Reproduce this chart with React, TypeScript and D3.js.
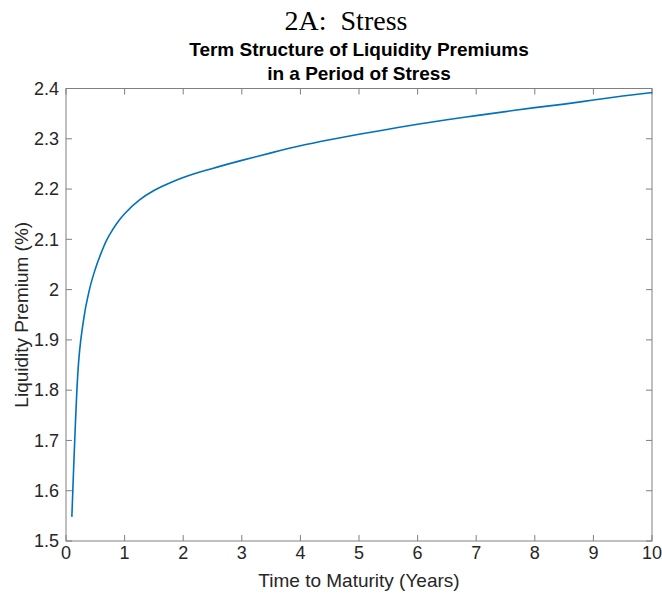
import React from "react";
import * as d3 from "d3";

const maturities = [0.1, 0.2, 0.3, 0.4, 0.5, 0.6, 0.7, 0.8, 0.9, 1.0, 1.25, 1.5, 1.75, 2.0, 2.5, 3.0, 3.5, 4.0, 4.5, 5.0, 5.5, 6.0, 6.5, 7.0, 7.5, 8.0, 8.5, 9.0, 9.5, 10.0];
const premiums = [1.548, 1.83, 1.94, 2.0, 2.041, 2.073, 2.1, 2.12, 2.137, 2.151, 2.178, 2.197, 2.211, 2.223, 2.241, 2.257, 2.272, 2.286, 2.298, 2.309, 2.319, 2.329, 2.338, 2.346, 2.354, 2.362, 2.369, 2.377, 2.385, 2.392];
const xTicks = [0, 1, 2, 3, 4, 5, 6, 7, 8, 9, 10];
const yTicks = [1.5, 1.6, 1.7, 1.8, 1.9, 2.0, 2.1, 2.2, 2.3, 2.4];

const W = 662;
const H = 596;
const left = 66;
const right = 652;
const top = 88.5;
const bottom = 541;

export default function App() {
  const x = d3.scaleLinear().domain([0, 10]).range([left, right]);
  const y = d3.scaleLinear().domain([1.5, 2.4]).range([bottom, top]);
  const pts = maturities.map((m, i) => [m, premiums[i]] as [number, number]);
  const line = d3
    .line<[number, number]>()
    .x((d) => x(d[0]))
    .y((d) => y(d[1]))
    .curve(d3.curveMonotoneX);
  const axisColor = "#808080";
  const textColor = "#262626";
  const font = "'Liberation Sans', Arial, Helvetica, sans-serif";
  const tick = 6;
  const tickFont = 18;
  const labelFont = 19;
  const fmt = (v: number) => (Math.abs(v - Math.round(v)) < 1e-9 ? String(Math.round(v)) : v.toFixed(1));
  return (
    <svg
      width={W}
      height={H}
      style={{ position: "absolute", left: 0, top: 0, background: "#fff" }}
    >
      <rect x={0} y={0} width={W} height={H} fill="#fff" />
      <text x={346} y={30} textAnchor="middle" fontFamily="'Liberation Serif', 'Times New Roman', serif" fontSize={28} fill="#000">
        {"2A:\u00A0 Stress"}
      </text>
      <text x={(left + right) / 2} y={56} textAnchor="middle" fontFamily={font} fontWeight="bold" fontSize={19} fill="#000">
        Term Structure of Liquidity Premiums
      </text>
      <text x={(left + right) / 2} y={80} textAnchor="middle" fontFamily={font} fontWeight="bold" fontSize={19} fill="#000">
        in a Period of Stress
      </text>
      <rect x={left} y={top} width={right - left} height={bottom - top} fill="none" stroke={axisColor} strokeWidth={1} />
      {xTicks.map((t) => (
        <g key={"x" + t}>
          <line x1={x(t)} x2={x(t)} y1={bottom} y2={bottom - tick} stroke={axisColor} />
          <line x1={x(t)} x2={x(t)} y1={top} y2={top + tick} stroke={axisColor} />
          <text x={x(t)} y={559} textAnchor="middle" fontFamily={font} fontSize={tickFont} fill={textColor}>
            {fmt(t)}
          </text>
        </g>
      ))}
      {yTicks.map((t) => (
        <g key={"y" + t}>
          <line x1={left} x2={left + tick} y1={y(t)} y2={y(t)} stroke={axisColor} />
          <line x1={right} x2={right - tick} y1={y(t)} y2={y(t)} stroke={axisColor} />
          <text x={59} y={y(t)} dy="0.35em" textAnchor="end" fontFamily={font} fontSize={tickFont} fill={textColor}>
            {fmt(t)}
          </text>
        </g>
      ))}
      <path d={line(pts) || ""} fill="none" stroke="#0072BD" strokeWidth={1.6} />
      <text x={(left + right) / 2} y={587} textAnchor="middle" fontFamily={font} fontSize={labelFont} fill={textColor}>
        Time to Maturity (Years)
      </text>
      <text
        transform={`translate(27.5,${(top + bottom) / 2}) rotate(-90)`}
        textAnchor="middle"
        fontFamily={font}
        fontSize={labelFont}
        fill={textColor}
      >
        Liquidity Premium (%)
      </text>
    </svg>
  );
}
